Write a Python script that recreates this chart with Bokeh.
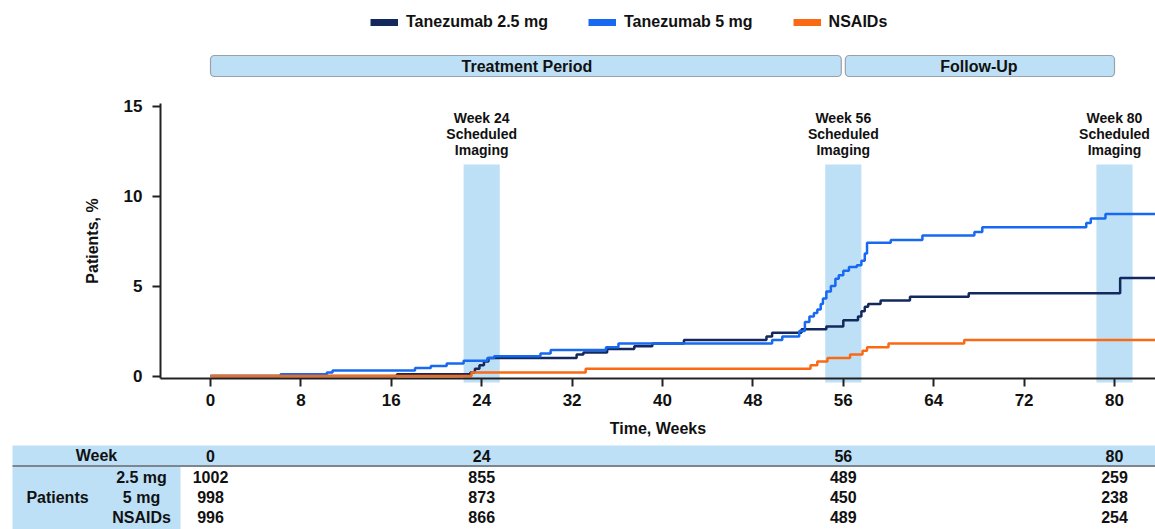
from bokeh.plotting import figure
from bokeh.models import Range1d, FixedTicker, Legend, LegendItem, LinearAxis
from bokeh.embed import file_html
from bokeh.resources import INLINE
from bokeh.core.properties import value

# ---------------- data ----------------
SERIES_NAMES = ["Tanezumab 2.5 mg", "Tanezumab 5 mg", "NSAIDs"]

weeks_t25 = [0, 16.5, 23.0, 23.4, 23.8, 24.2, 24.6, 32.4, 33.0, 35.1, 37.5, 39.1, 41.9,
             49.2, 49.7, 52.3, 54.5, 56.0, 57.3, 57.6, 57.9, 58.2, 59.3, 61.9, 67.1, 80.5]
pct_t25 = [0, 0.1, 0.2, 0.4, 0.6, 0.8, 1.0, 1.2, 1.3, 1.5, 1.65, 1.8, 2.0,
           2.2, 2.4, 2.6, 2.75, 3.1, 3.3, 3.6, 3.85, 4.0, 4.2, 4.4, 4.6, 5.45]

weeks_t5 = [0, 6.2, 10.3, 10.8, 18.1, 19.5, 20.9, 22.4, 24.5, 25.1, 29.2, 30.1, 35.0, 36.1,
            49.7, 50.6, 52.1, 52.6, 53.0, 53.4, 53.7, 54.0, 54.2, 54.5, 54.9, 55.3, 55.6,
            56.0, 56.5, 57.2, 57.6, 57.9, 58.1, 60.2, 63.0, 67.6, 68.3, 77.5, 77.9, 79.2]
pct_t5 = [0, 0.1, 0.2, 0.3, 0.45, 0.55, 0.7, 0.85, 1.0, 1.1, 1.25, 1.45, 1.6, 1.8,
          2.0, 2.2, 2.5, 3.0, 3.3, 3.5, 3.7, 4.0, 4.3, 4.7, 5.0, 5.4, 5.6,
          5.85, 6.05, 6.15, 6.4, 6.8, 7.4, 7.55, 7.8, 8.0, 8.27, 8.5, 8.75, 9.0]

weeks_nsaid = [0, 23.1, 33.2, 53.1, 53.7, 54.6, 56.6, 57.7, 58.1, 60.0, 66.7]
pct_nsaid = [0, 0.2, 0.4, 0.6, 0.8, 1.0, 1.2, 1.4, 1.6, 1.8, 2.0]

LAST_WEEK = 84  # curves continue to the right edge

IMAGING_WEEKS = [24, 56, 80]
IMAGING_LABEL = "Week {}\nScheduled\nImaging"

PERIOD_NAMES = ["Treatment Period", "Follow-Up"]
PERIOD_START = [0, 56]
PERIOD_END = [56, 80]

X_TICKS = [0, 8, 16, 24, 32, 40, 48, 56, 64, 72, 80]
Y_TICKS = [0, 5, 10, 15]

TABLE_WEEKS = [0, 24, 56, 80]
TABLE_ROW_LABELS = ["2.5 mg", "5 mg", "NSAIDs"]
AT_RISK_T25 = [1002, 855, 489, 259]
AT_RISK_T5 = [998, 873, 450, 238]
AT_RISK_NSAID = [996, 866, 489, 254]

# ---------------- style / layout ----------------
COLORS = ["#13295e", "#1769f2", "#fa6a14"]
BAND = "#bde0f7"
BOX_LINE = "#9aa1a9"
TXT = "#111111"
FONT_NAME = "Liberation Sans"
FONT = value(FONT_NAME)

W, H = 1155, 529
PX_PER_WEEK = 11.3
PX_PER_PCT = 18.0
ZERO_X = 210.0      # px of week 0
ZERO_Y = 375.5      # px of 0 %
AXIS_X_PX = 160     # y-axis line
AXIS_Y_PX = 378     # x-axis line


def wk(px):
    return (px - ZERO_X) / PX_PER_WEEK


def pc(py):
    return (ZERO_Y - py) / PX_PER_PCT


p = figure(width=W, height=H, x_range=Range1d(wk(0), wk(W)), y_range=Range1d(pc(H), pc(0)),
           output_backend="svg", toolbar_location=None,
           x_axis_location=None, y_axis_location=None,
           min_border=0, min_border_left=0, min_border_right=0, min_border_top=0, min_border_bottom=0)
p.outline_line_color = None
p.xgrid.visible = False
p.ygrid.visible = False
p.background_fill_color = "white"
p.border_fill_color = "white"

# ---- imaging bands (behind everything) ----
HALF_BAND = 1.6
p.quad(left=[w - HALF_BAND for w in IMAGING_WEEKS], right=[w + HALF_BAND for w in IMAGING_WEEKS],
       bottom=pc(382), top=pc(164), fill_color=BAND, line_color=None)
p.text(x=IMAGING_WEEKS, y=pc(109), text=[IMAGING_LABEL.format(w) for w in IMAGING_WEEKS],
       text_font=FONT, text_font_style="bold", text_font_size="14px", text_color=TXT,
       text_align="center", text_baseline="top", text_line_height=1.0)

# ---- period boxes ----
GAP = 0.18
p.quad(left=[s + (GAP if i else 0) for i, s in enumerate(PERIOD_START)],
       right=[e - (0 if i else GAP) for i, e in enumerate(PERIOD_END)],
       bottom=pc(76), top=pc(55), fill_color=BAND, line_color=BOX_LINE, line_width=1.2,
       border_radius=4)
p.text(x=[(s + e) / 2 for s, e in zip(PERIOD_START, PERIOD_END)], y=pc(65.5), text=PERIOD_NAMES,
       text_font=FONT, text_font_style="bold", text_font_size="16px", text_color=TXT,
       text_align="center", text_baseline="middle")

# ---- axes (fixed inside the single canvas) ----
xaxis = LinearAxis(fixed_location=pc(AXIS_Y_PX), bounds=(wk(AXIS_X_PX), wk(W + 5)))
yaxis = LinearAxis(fixed_location=wk(AXIS_X_PX), bounds=(pc(AXIS_Y_PX), pc(103)))
xaxis.ticker = FixedTicker(ticks=X_TICKS)
yaxis.ticker = FixedTicker(ticks=Y_TICKS)
xaxis.axis_label = "Time, Weeks"
yaxis.axis_label = "Patients, %"
for ax in (xaxis, yaxis):
    ax.axis_line_width = 2
    ax.axis_line_color = "#222222"
    ax.major_tick_line_width = 2
    ax.major_tick_line_color = "#222222"
    ax.major_tick_out = 8
    ax.major_tick_in = 0
    ax.minor_tick_out = 0
    ax.minor_tick_in = 0
    ax.major_label_text_font = FONT_NAME
    ax.major_label_text_font_style = "bold"
    ax.major_label_text_font_size = "17px"
    ax.major_label_text_color = TXT
    ax.axis_label_text_font = FONT_NAME
    ax.axis_label_text_font_style = "bold"
    ax.axis_label_text_font_size = "16px"
    ax.axis_label_text_color = TXT
xaxis.major_label_standoff = 7
xaxis.axis_label_standoff = 11
yaxis.major_label_standoff = 10
yaxis.axis_label_standoff = 20
p.add_layout(xaxis, "below")
p.add_layout(yaxis, "left")

# ---- KM step curves ----
series = [(weeks_t25, pct_t25), (weeks_t5, pct_t5), (weeks_nsaid, pct_nsaid)]
for (xs, ys), c in zip(series, COLORS):
    p.step(x=list(xs) + [LAST_WEEK], y=list(ys) + [ys[-1]], mode="after",
           line_color=c, line_width=2.5)

# ---- legend (thick swatches) ----
nan = float("nan")
proxies = [p.line(x=[nan], y=[nan], line_color=c, line_width=7) for c in COLORS]
legend = Legend(items=[LegendItem(label=n, renderers=[r]) for n, r in zip(SERIES_NAMES, proxies)],
                location=(370, H - 31), orientation="horizontal", spacing=40, glyph_width=28,
                glyph_height=18, label_standoff=8, padding=0, margin=0,
                border_line_color=None, background_fill_alpha=0,
                label_text_font=FONT_NAME, label_text_font_style="bold",
                label_text_font_size="16px", label_text_color=TXT)
p.add_layout(legend)

# ---- at-risk table ----
TL, TC, TR = wk(12), wk(180), wk(W + 10)
p.quad(left=[TL], right=[TR], top=[pc(445)], bottom=[pc(465)], fill_color=BAND, line_color=None)
p.quad(left=[TL], right=[TC], top=[pc(466)], bottom=[pc(H + 5)], fill_color=BAND, line_color=None)
p.segment(x0=[TL], x1=[TR], y0=[pc(465.5)], y1=[pc(465.5)], line_color="#7d858e", line_width=2)

tfont = dict(text_font=FONT, text_font_style="bold", text_font_size="16px", text_color=TXT,
             text_baseline="middle")
HEAD_Y = pc(455)
ROW_Y = [pc(476.5), pc(496.5), pc(516.5)]
p.text(x=[wk(96)], y=[HEAD_Y], text=["Week"], text_align="center", **tfont)
p.text(x=TABLE_WEEKS, y=[HEAD_Y] * len(TABLE_WEEKS), text=[str(w) for w in TABLE_WEEKS],
       text_align="center", **tfont)
p.text(x=[wk(57)], y=[ROW_Y[1]], text=["Patients"], text_align="center", **tfont)
p.text(x=[wk(141)] * 3, y=ROW_Y, text=TABLE_ROW_LABELS, text_align="center", **tfont)
for ry, row in zip(ROW_Y, [AT_RISK_T25, AT_RISK_T5, AT_RISK_NSAID]):
    p.text(x=TABLE_WEEKS, y=[ry] * len(row), text=[str(v) for v in row], text_align="center", **tfont)

open("out.html", "w").write(file_html(p, INLINE))
